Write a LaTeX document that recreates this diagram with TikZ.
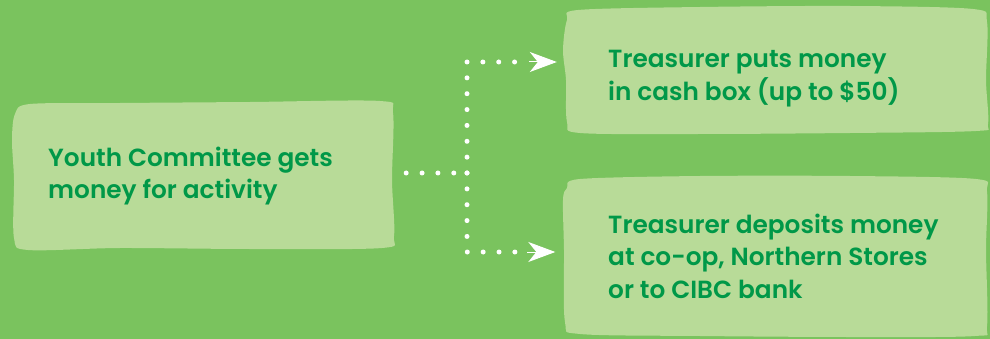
\documentclass[tikz,border=0pt]{standalone}
\usepackage{fontspec}
\setmainfont{Poppins}[BoldFont={Poppins SemiBold}]
\usetikzlibrary{arrows.meta}
\definecolor{bgc}{RGB}{122,195,94}
\definecolor{boxc}{RGB}{184,219,152}
\definecolor{txtc}{RGB}{0,152,72}
\tikzset{
  blob/.style={fill=boxc},
  label/.style={anchor=base west,inner sep=0pt,align=left,text=txtc,
    font=\fontsize{24.8}{32.5}\selectfont\bfseries},
  dotline/.style={white,line width=5pt,line cap=round,dash pattern=on 0pt off 15.86pt},
  tip/.style={white,line width=1pt,-{Stealth[length=27pt,width=20pt,inset=8pt]}}
}
\begin{document}
\begin{tikzpicture}[x=1pt,y=-1pt]
\useasboundingbox (0,0) rectangle (990,339);
\fill[bgc] (0,0) rectangle (990,339);
% box shapes
\fill[blob] plot[smooth cycle,tension=0.5] coordinates {
 (30,104) (120,103) (250,102) (380,101) (393,113) (392,180) (394,236) (382,248)
 (250,249) (120,248) (28,250) (14,238) (14,180) (12,140) (15,114)};
\fill[blob] plot[smooth cycle,tension=0.5] coordinates {
 (578,10) (700,7) (850,6) (973,9) (987,22) (986,80) (988,124) (976,131)
 (850,133) (700,134) (580,133) (567,122) (566,80) (563,50) (567,20)};
\fill[blob] plot[smooth cycle,tension=0.5] coordinates {
 (580,179) (700,176) (850,176) (976,179) (987,192) (986,250) (987,326) (975,336)
 (850,337) (700,336) (580,334) (565,322) (564,250) (563,200) (567,188)};
% invisible areas of the boxes
\node[inner sep=0pt,minimum width=381pt,minimum height=146pt] (b1) at (203.5,175.5) {};
\node[inner sep=0pt,minimum width=423pt,minimum height=126pt] (b2) at (776.5,70.5) {};
\node[inner sep=0pt,minimum width=424pt,minimum height=160pt] (b3) at (775.5,257) {};
% texts (anchored at the baseline of the last line)
\node[label] (t1) at (48,199) {Youth Committee gets\\money for activity};
\node[label] (t2) at (608,100.5) {Treasurer puts money\\in cash box (up to \$50)};
\node[label] (t3) at (608,298) {Treasurer deposits money\\at co-op, Northern Stores\\or to CIBC bank};
% connectors
\coordinate (j) at (467,173);
\coordinate (jt) at (467,62);
\coordinate (jb) at (467,252);
\coordinate (et) at (521,62);
\coordinate (eb) at (521,252);
\draw[dotline] ([xshift=12pt]b1.east |- j) -- (j);
\draw[dotline] (j) -- (jt) -- (et);
\draw[dotline] (j) -- (jb) -- (eb);
\draw[tip] ([xshift=-36pt]b2.west |- jt) -- ([xshift=-8pt]b2.west |- jt);
\draw[tip] ([xshift=-36pt]b3.west |- jb) -- ([xshift=-8pt]b3.west |- jb);
\end{tikzpicture}
\end{document}
